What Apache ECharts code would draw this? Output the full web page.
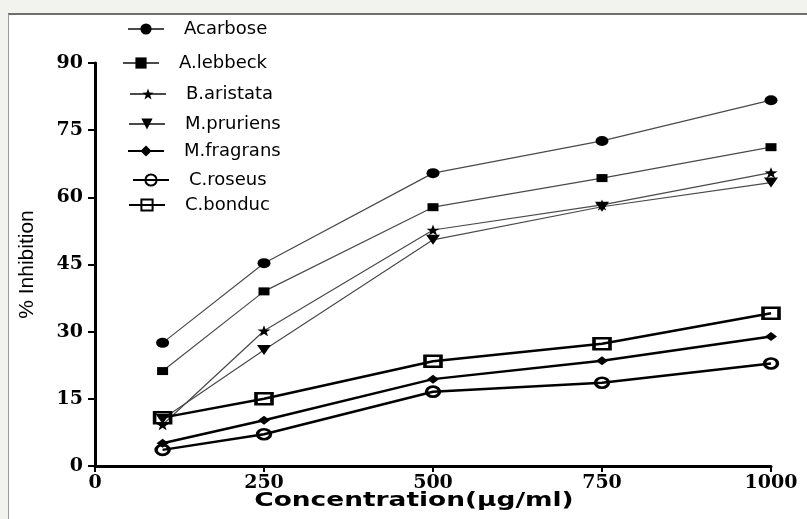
<!DOCTYPE html>
<html>
<head>
<meta charset="utf-8">
<script src="https://cdn.jsdelivr.net/npm/echarts@6/dist/echarts.min.js"></script>
<style>
  html, body { margin: 0; padding: 0; background: #f2f2ee; }
  .panel {
    position: absolute; left: 8px; top: 13px; right: 0; bottom: 0;
    background: #fff; border-top: 2px solid #6f6f6f; border-left: 1px solid #9a9a9a;
  }
  #chart { position: absolute; left: 0; top: 0; width: 807px; height: 519px; }
</style>
</head>
<body>
<div class="panel"></div>
<div id="chart"></div>
<script>
// concentrations (µg/ml)
const concentrations = [100, 250, 500, 750, 1000]
const xTicks = [0, 250, 500, 750, 1000]
const yTicks = [0, 15, 30, 45, 60, 75, 90]

// % inhibition
const acarbose = [27.5, 45.3, 65.4, 72.6, 81.7]
const lebbeck = [21.2, 39.0, 57.8, 64.3, 71.2]
const aristata = [9.2, 30.2, 52.7, 58.3, 65.5]
const pruriens = [10.5, 25.9, 50.5, 57.9, 63.3]
const fragrans = [5.1, 10.2, 19.4, 23.5, 28.9]
const roseus = [3.6, 7.1, 16.6, 18.6, 22.9]
const bonduc = [10.8, 15.0, 23.4, 27.3, 34.1]

const star = 'path://M0,-10 L2.35,-3.24 L9.51,-3.09 L3.8,1.24 L5.88,8.09 L0,4 L-5.88,8.09 L-3.8,1.24 L-9.51,-3.09 L-2.35,-3.24 Z'

const seriesDefs = [
  { name: 'Acarbose', values: acarbose, symbol: 'circle', size: [13, 10], thin: true, legend: [127, 29] },
  { name: 'A.lebbeck', values: lebbeck, symbol: 'rect', size: [11, 8], thin: true, legend: [122, 63] },
  { name: 'B.aristata', values: aristata, symbol: star, size: [13, 11], thin: true, legend: [129, 94] },
  { name: 'M.pruriens', values: pruriens, symbol: 'triangle', size: [14, 10], rotate: 180, thin: true, legend: [128, 124] },
  { name: 'M.fragrans', values: fragrans, symbol: 'diamond', size: [12, 9], thin: false, legend: [127, 151] },
  { name: 'C.roseus', values: roseus, symbol: 'circle', hollow: true, size: [13, 10], thin: false, legend: [132, 180] },
  { name: 'C.bonduc', values: bonduc, symbol: 'rect', hollow: true, size: [16, 11], thin: false, legend: [128, 205] }
]

const tickFont = 'DejaVu Serif'

const series = seriesDefs.map(d => {
  return {
    name: d.name,
    type: 'line',
    data: concentrations.map((c, i) => [c, d.values[i]]),
    symbol: d.symbol,
    symbolSize: d.size,
    symbolRotate: d.rotate || 0,
    showAllSymbol: true,
    animation: false,
    lineStyle: {
      color: d.thin ? '#4a4a4a' : '#000',
      width: d.thin ? 1.2 : 2.5
    },
    itemStyle: {
      color: d.hollow ? 'rgba(255,255,255,0)' : '#000',
      borderColor: '#000',
      borderWidth: d.hollow ? 3 : 0
    }
  }
})

// one legend block per entry, the entries are not evenly spaced
const legends = seriesDefs.map(d => {
  return {
    data: [d.name],
    left: d.legend[0],
    top: d.legend[1] - 9,
    padding: 0,
    orient: 'vertical',
    itemWidth: 36,
    itemHeight: 14,
    textStyle: {
      fontFamily: 'DejaVu Sans',
      fontSize: 18,
      color: '#000',
      padding: [0, 0, 0, 15]
    }
  }
})

const chart = echarts.init(document.getElementById('chart'), null, { renderer: 'canvas' })
chart.setOption({
  backgroundColor: 'transparent',
  grid: { left: 95, right: 36, top: 63, bottom: 53, containLabel: false },
  legend: legends,
  xAxis: {
    type: 'value',
    min: xTicks[0],
    max: xTicks[xTicks.length - 1],
    interval: xTicks[1] - xTicks[0],
    splitLine: { show: false },
    axisLine: { lineStyle: { color: '#000', width: 3 } },
    axisTick: { length: 6, lineStyle: { color: '#000', width: 2 } },
    axisLabel: {
      margin: 8, color: '#000', fontFamily: tickFont, fontWeight: 'bold', fontSize: 19,
      formatter: v => String(v)
    }
  },
  yAxis: {
    type: 'value',
    min: yTicks[0],
    max: yTicks[yTicks.length - 1],
    interval: yTicks[1] - yTicks[0],
    name: '% Inhibition',
    nameLocation: 'middle',
    nameGap: 57,
    nameTextStyle: { fontFamily: 'Liberation Sans', fontSize: 21, color: '#000' },
    splitLine: { show: false },
    axisLine: { show: true, lineStyle: { color: '#000', width: 3 } },
    axisTick: { show: true, length: 7, lineStyle: { color: '#000', width: 2 } },
    axisLabel: {
      margin: 12, color: '#000', fontFamily: tickFont, fontWeight: 'bold', fontSize: 19,
      formatter: v => String(v)
    }
  },
  graphic: [
    {
      type: 'text',
      x: 414,
      y: 501,
      scaleX: 1.32,
      style: {
        text: 'Concentration(µg/ml)',
        align: 'center',
        verticalAlign: 'middle',
        fontFamily: 'DejaVu Sans',
        fontWeight: 'bold',
        fontSize: 20,
        fill: '#000'
      }
    }
  ],
  series: series
})
</script>
</body>
</html>
